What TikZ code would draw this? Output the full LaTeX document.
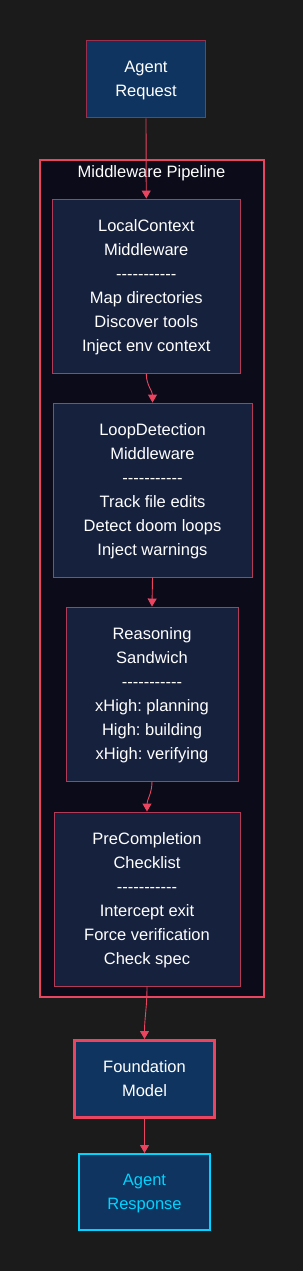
\documentclass[tikz,border=0pt]{standalone}
\usepackage{fontspec}
\newfontfamily\diagramfont{Liberation Sans}
\usetikzlibrary{arrows.meta, positioning}
\definecolor{color_page}{HTML}{1B1B1B}
\definecolor{color_cluster}{HTML}{0B0B1A}
\definecolor{color_stage}{HTML}{16213E}
\definecolor{color_entry}{HTML}{0F3460}
\definecolor{color_accent}{HTML}{E94560}
\definecolor{color_soft}{HTML}{B23C58}
\definecolor{color_dim}{HTML}{9E2F4C}
\definecolor{color_cyan}{HTML}{00D4FF}
\tikzset{
  box_text/.style={font=\diagramfont\fontsize{16.5}{24}\selectfont\frenchspacing, text=white, align=center, inner sep=0pt},
  entry_box/.style={box_text, text depth=-5pt, fill=color_entry, draw=color_dim, line width=1.6pt},
  stage_box/.style={box_text, text depth=-5pt, fill=color_stage, draw=color_soft, line width=0.9pt, minimum height=174pt},
  model_box/.style={box_text, text depth=-5pt, fill=color_entry, draw=color_accent, line width=3pt},
  reply_box/.style={box_text, text depth=-5pt, fill=color_entry, draw=color_cyan, line width=2pt, text=color_cyan},
  pipe_frame/.style={fill=color_cluster, draw=color_accent, line width=2pt},
  flow_arrow/.style={-{Triangle[length=8pt, width=9pt]}, draw=color_accent, line width=0.9pt},
}

\begin{document}
\begin{tikzpicture}[x=1pt, y=-1pt]
    % Page
    \fill[color_page] (0,0) rectangle (303,1271);
    % Pipeline frame
    \node[pipe_frame, minimum width=224pt, minimum height=837pt] (pipe) at (151.5,578.5) {};
    \node[box_text] (pipe_title) at (151.5,173) {Middleware Pipeline};
    % Outer nodes
    \node[entry_box, minimum width=119pt, minimum height=77pt] (agent_req) at (146,79) {Agent\\Request};
    \node[model_box, minimum width=140pt, minimum height=77pt] (found_model) at (144.5,1079) {Foundation\\Model};
    \node[reply_box, minimum width=131pt, minimum height=76pt] (agent_resp) at (144.5,1192) {Agent\\Response};
    % Stages
    \node[stage_box, minimum width=188pt] (local_ctx) at (146.25,286)
      {LocalContext\\Middleware\\-----------\\Map directories\\Discover tools\\Inject env context};
    \node[stage_box, minimum width=199pt] (loop_det) at (152.5,490)
      {LoopDetection\\Middleware\\-----------\\Track file edits\\Detect doom loops\\Inject warnings};
    \node[stage_box, minimum width=172pt] (reason_sw) at (152,694)
      {Reasoning\\Sandwich\\-----------\\xHigh: planning\\High: building\\xHigh: verifying};
    \node[stage_box, minimum width=186pt] (pre_check) at (147,899)
      {PreCompletion\\Checklist\\-----------\\Intercept exit\\Force verification\\Check spec};
    % Flow
    \draw[flow_arrow] (agent_req.south) -- (local_ctx.north);
    \draw[flow_arrow] (local_ctx.south) to[out=-90, in=90] (loop_det.north);
    \draw[flow_arrow] (loop_det.south) -- (reason_sw.north);
    \draw[flow_arrow] (reason_sw.south) to[out=-90, in=90] (pre_check.north);
    \draw[flow_arrow] (pre_check.south) to[out=-90, in=90] (found_model.north);
    \draw[flow_arrow] (found_model.south) -- (agent_resp.north);
  \end{tikzpicture}
\end{document}
